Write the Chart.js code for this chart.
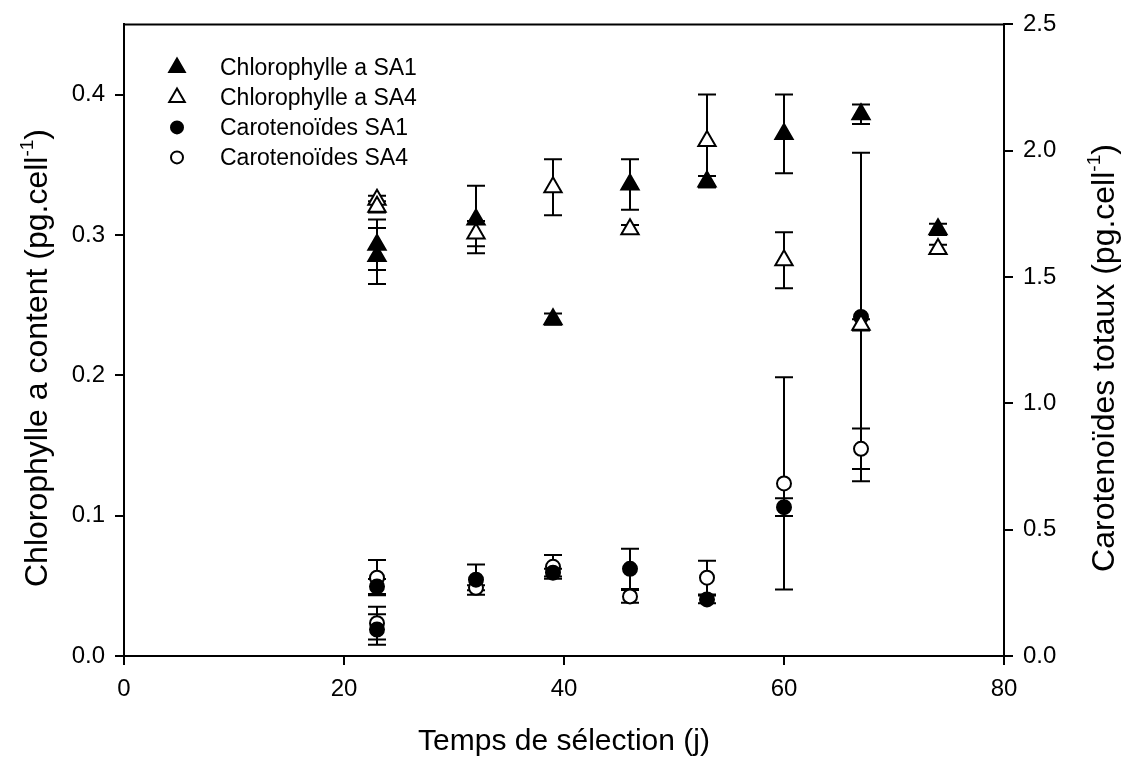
<!DOCTYPE html>
<html>
<head>
<meta charset="utf-8">
<script src="https://cdn.jsdelivr.net/npm/chart.js@4.4.0/dist/chart.umd.min.js"></script>
<style>
  html, body { margin: 0; padding: 0; background: #fff; }
</style>
</head>
<body>
<canvas id="myChart" width="1128" height="760"></canvas>
<script>
// sampling days (two measurements on day 23)
var days = [23, 23, 32, 39, 46, 53, 60, 67, 74];
var carDays = [23, 23, 32, 39, 46, 53, 60, 67];

// chlorophylle a (left axis, pg.cell-1)
var chlSA1 = [0.293, 0.285, 0.311, 0.240, 0.336, 0.338, 0.372, 0.386, 0.304];
var chlSA1Err = [0.018, 0.020, 0.024, 0.004, 0.018, 0.004, 0.028, 0.007, 0.004];
var chlSA4 = [0.325, 0.320, 0.301, 0.334, 0.304, 0.367, 0.282, 0.236, 0.290];
var chlSA4Err = [0.003, 0.004, 0.009, 0.020, 0.003, 0.033, 0.020, 0.004, 0.003];

// carotenoides totaux (right axis, pg.cell-1)
var carSA1 = [0.275, 0.105, 0.302, 0.330, 0.345, 0.224, 0.589, 1.342];
var carSA1Err = [0.030, 0.060, 0.060, 0.015, 0.080, 0.015, 0.035, 0.650];
var carSA4 = [0.310, 0.130, 0.270, 0.353, 0.236, 0.310, 0.683, 0.820];
var carSA4Err = [0.070, 0.065, 0.010, 0.047, 0.025, 0.067, 0.420, 0.080];

var xTicks = [0, 20, 40, 60, 80];
var yTitles = ['Chlorophylle a content (pg.cell', 'Caroteno\u00efdes totaux (pg.cell'];

function pts(xs, ys) {
    return xs.map(function (x, i) { return { x: x, y: ys[i] }; });
}

var FONT = 'Arial, "Liberation Sans", sans-serif';

var errorBars = {
    id: 'errorBars',
    beforeDatasetsDraw: function (chart) {
        var ctx = chart.ctx;
        chart.data.datasets.forEach(function (ds, i) {
            if (!ds.err) return;
            var meta = chart.getDatasetMeta(i);
            var ys = chart.scales[ds.yAxisID];
            ctx.save();
            ctx.strokeStyle = '#000';
            ctx.lineWidth = 2;
            ds.data.forEach(function (p, j) {
                var px = meta.data[j].x;
                var top = ys.getPixelForValue(p.y + ds.err[j]);
                var bot = ys.getPixelForValue(p.y - ds.err[j]);
                ctx.beginPath();
                ctx.moveTo(px, top); ctx.lineTo(px, bot);
                ctx.moveTo(px - 9, top); ctx.lineTo(px + 9, top);
                ctx.moveTo(px - 9, bot); ctx.lineTo(px + 9, bot);
                ctx.stroke();
            });
            ctx.restore();
        });
    }
};

// rotated y title with a real superscript -1
function drawYTitle(ctx, text, cx, cy, size) {
    ctx.save();
    ctx.translate(cx, cy);
    ctx.rotate(-Math.PI / 2);
    ctx.textBaseline = 'middle';
    ctx.textAlign = 'left';
    ctx.fillStyle = '#000';
    var big = size + 'px ' + FONT, small = Math.round(size * 0.6) + 'px ' + FONT;
    ctx.font = big;
    var w1 = ctx.measureText(text).width;
    var w3 = ctx.measureText(')').width;
    ctx.font = small;
    var w2 = ctx.measureText('-1').width;
    var x = -(w1 + w2 + w3) / 2;
    ctx.font = big;
    ctx.fillText(text, x, 0);
    ctx.font = small;
    ctx.fillText('-1', x + w1, -size * 0.33);
    ctx.font = big;
    ctx.fillText(')', x + w1 + w2, 0);
    ctx.restore();
}

// frame on top + legend inside the plot + y titles
var frameLegend = {
    id: 'frameLegend',
    afterDraw: function (chart) {
        var ctx = chart.ctx, a = chart.chartArea;
        ctx.save();
        ctx.strokeStyle = '#000';
        ctx.lineWidth = 2;
        ctx.beginPath();
        ctx.moveTo(a.left, a.top); ctx.lineTo(a.right, a.top);
        ctx.stroke();

        ctx.font = '23px ' + FONT;
        ctx.textBaseline = 'middle';
        ctx.textAlign = 'left';
        chart.data.datasets.forEach(function (ds, i) {
            var y = a.top + 43 + i * 30;
            var x = a.left + 53;
            ctx.fillStyle = ds.pointBackgroundColor;
            ctx.strokeStyle = '#000';
            ctx.lineWidth = 2;
            Chart.helpers.drawPoint(ctx, { pointStyle: ds.pointStyle, radius: ds.pointRadius - 1, borderWidth: 2, rotation: 0 }, x, y);
            ctx.fillStyle = '#000';
            ctx.fillText(ds.label, a.left + 96, y + 1);
        });
        ctx.restore();

        drawYTitle(ctx, yTitles[0], 38, 358, 32);
        drawYTitle(ctx, yTitles[1], 1105, 358, 32);
    }
};

var ctx = document.getElementById('myChart');
var myChart = new Chart(ctx, {
    type: 'scatter',
    data: {
        datasets: [{
            label: 'Chlorophylle a SA1',
            data: pts(days, chlSA1),
            err: chlSA1Err,
            yAxisID: 'y',
            pointStyle: 'triangle',
            pointRadius: 10,
            pointBackgroundColor: '#000',
            pointBorderColor: '#000',
            pointBorderWidth: 2
        }, {
            label: 'Chlorophylle a SA4',
            data: pts(days, chlSA4),
            err: chlSA4Err,
            yAxisID: 'y',
            pointStyle: 'triangle',
            pointRadius: 10,
            pointBackgroundColor: '#fff',
            pointBorderColor: '#000',
            pointBorderWidth: 2
        }, {
            label: 'Caroteno\u00efdes SA1',
            data: pts(carDays, carSA1),
            err: carSA1Err,
            yAxisID: 'y2',
            pointStyle: 'circle',
            pointRadius: 7,
            pointBackgroundColor: '#000',
            pointBorderColor: '#000',
            pointBorderWidth: 2
        }, {
            label: 'Caroteno\u00efdes SA4',
            data: pts(carDays, carSA4),
            err: carSA4Err,
            yAxisID: 'y2',
            pointStyle: 'circle',
            pointRadius: 7,
            pointBackgroundColor: '#fff',
            pointBorderColor: '#000',
            pointBorderWidth: 2
        }]
    },
    plugins: [errorBars, frameLegend],
    options: {
        responsive: false,
        animation: false,
        layout: { padding: { top: 20, left: 0, right: 0, bottom: 0 } },
        plugins: {
            legend: { display: false },
            tooltip: { enabled: false }
        },
        scales: {
            x: {
                type: 'linear',
                position: 'bottom',
                min: 0,
                max: 80,
                afterBuildTicks: function (s) { s.ticks = xTicks.map(function (v) { return { value: v }; }); },
                afterFit: function (s) { s.height = 104; },
                ticks: { color: '#000', font: { size: 24, family: FONT }, padding: 10 },
                grid: { drawOnChartArea: false, color: '#000', lineWidth: 2, tickLength: 9 },
                border: { color: '#000', width: 2 },
                title: { display: true, text: 'Temps de s\u00e9lection (j)', color: '#000',
                         font: { size: 30, family: FONT }, padding: { top: 0, bottom: 0 } }
            },
            y: {
                position: 'left',
                min: 0,
                max: 0.45,
                ticks: { stepSize: 0.1, includeBounds: false, color: '#000', font: { size: 24, family: FONT }, padding: 10,
                         callback: function (v) { return v.toFixed(1); } },
                afterFit: function (s) { s.width = 124; },
                grid: { drawOnChartArea: false, color: '#000', lineWidth: 2, tickLength: 9 },
                border: { color: '#000', width: 2 }
            },
            y2: {
                position: 'right',
                min: 0,
                max: 2.5,
                ticks: { stepSize: 0.5, color: '#000', font: { size: 24, family: FONT }, padding: 10,
                         callback: function (v) { return v.toFixed(1); } },
                afterFit: function (s) { s.width = 124; },
                grid: { drawOnChartArea: false, color: '#000', lineWidth: 2, tickLength: 9 },
                border: { color: '#000', width: 2 }
            }
        }
    }
});
</script>
